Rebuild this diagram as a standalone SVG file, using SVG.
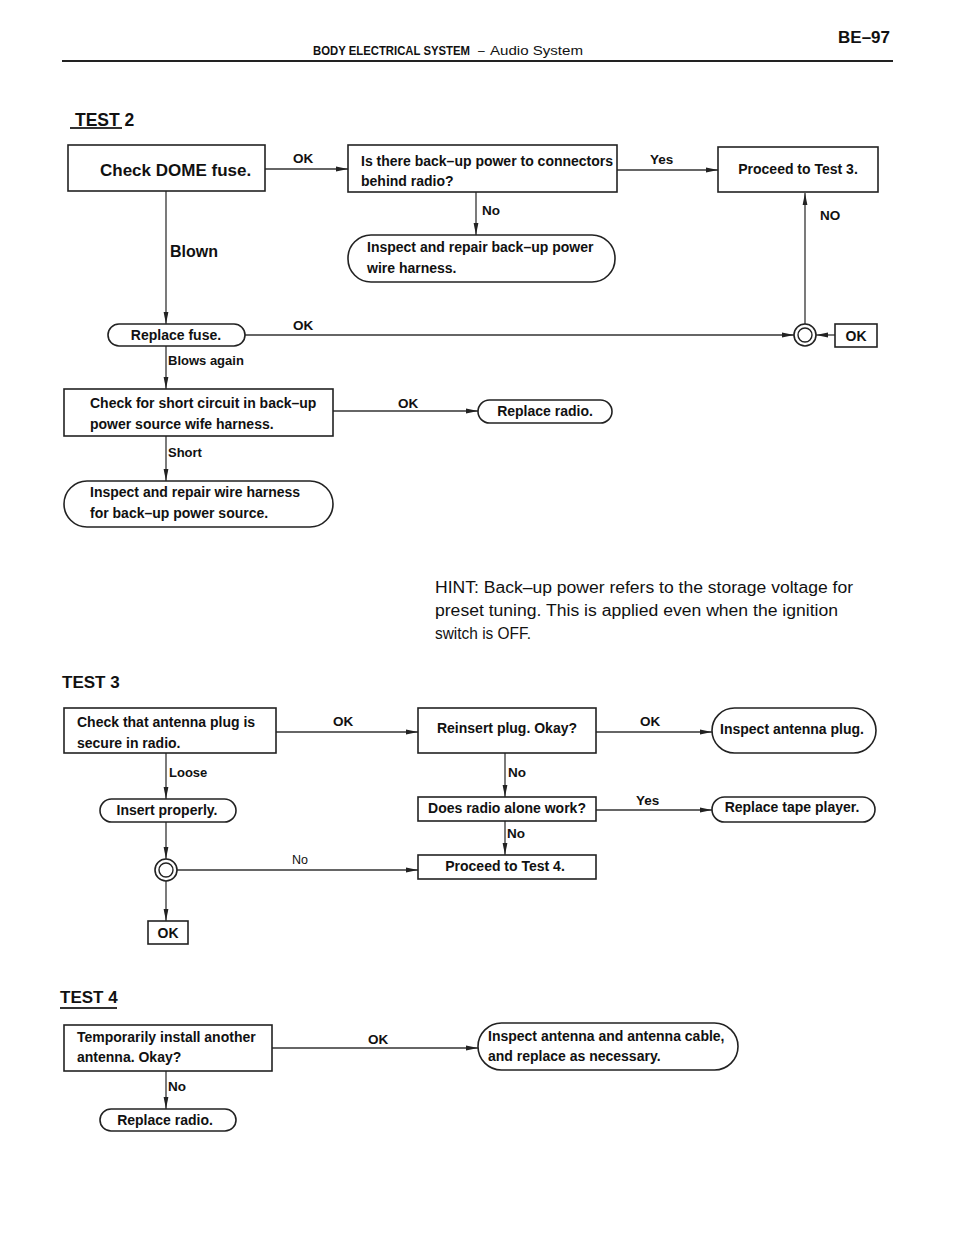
<svg xmlns="http://www.w3.org/2000/svg" width="960" height="1242" viewBox="0 0 960 1242">
<defs>
<marker id="arr" viewBox="0 0 12 6" refX="12" refY="3" markerWidth="12" markerHeight="6" markerUnits="userSpaceOnUse" orient="auto">
<path d="M0,0.6 L12,3 L0,5.4 Z" fill="#222"/>
</marker>
</defs>
<style>
.box{fill:#fff;stroke:#222;stroke-width:1.6}
.ln{fill:none;stroke:#333;stroke-width:1.3}
.t{font-family:"Liberation Sans",Arial,sans-serif;font-weight:bold;font-size:13px;fill:#111}
.n{font-size:14px}
.big{font-size:17px}
.lbl{font-family:"Liberation Sans",Arial,sans-serif;font-weight:bold;font-size:13.5px;fill:#111}
.hint{font-family:"Liberation Sans",Arial,sans-serif;font-size:16px;fill:#111}
.m{text-anchor:middle}
</style>
<rect width="960" height="1242" fill="#fff"/>

<g id="header">
<text x="890" y="43" class="t" style="font-size:17px" text-anchor="end">BE–97</text>
<text x="313" y="55" class="t" style="font-size:12px" textLength="157" lengthAdjust="spacingAndGlyphs">BODY ELECTRICAL SYSTEM</text>
<text x="478" y="55" class="hint" style="font-size:12px">–</text>
<text x="490" y="55" class="hint" style="font-size:13px" textLength="93" lengthAdjust="spacingAndGlyphs">Audio System</text>
<line x1="62" y1="61" x2="893" y2="61" stroke="#222" stroke-width="2"/>
</g>

<g id="test2-title">
<text x="75" y="126" class="t" style="font-size:17.5px">TEST 2</text>
<line x1="70" y1="128" x2="122" y2="128" stroke="#333" stroke-width="2"/>
</g>

<g id="connectors">
<line class="ln" x1="265" y1="169" x2="348" y2="169" marker-end="url(#arr)"/>
<line class="ln" x1="617" y1="170" x2="718" y2="170" marker-end="url(#arr)"/>
<line class="ln" x1="476" y1="192" x2="476" y2="235" marker-end="url(#arr)"/>
<line class="ln" x1="166" y1="191" x2="166" y2="324" marker-end="url(#arr)"/>
<line class="ln" x1="245" y1="335" x2="794" y2="335" marker-end="url(#arr)"/>
<line class="ln" x1="835" y1="335" x2="816" y2="335" marker-end="url(#arr)"/>
<line class="ln" x1="805" y1="324" x2="805" y2="193" marker-end="url(#arr)"/>
<line class="ln" x1="166" y1="346" x2="166" y2="389" marker-end="url(#arr)"/>
<line class="ln" x1="333" y1="411" x2="478" y2="411" marker-end="url(#arr)"/>
<line class="ln" x1="166" y1="436" x2="166" y2="481" marker-end="url(#arr)"/>

<line class="ln" x1="276" y1="732" x2="418" y2="732" marker-end="url(#arr)"/>
<line class="ln" x1="596" y1="732" x2="712" y2="732" marker-end="url(#arr)"/>
<line class="ln" x1="505" y1="753" x2="505" y2="797" marker-end="url(#arr)"/>
<line class="ln" x1="596" y1="810" x2="712" y2="810" marker-end="url(#arr)"/>
<line class="ln" x1="505" y1="821" x2="505" y2="855" marker-end="url(#arr)"/>
<line class="ln" x1="166" y1="753" x2="166" y2="799" marker-end="url(#arr)"/>
<line class="ln" x1="166" y1="822" x2="166" y2="859" marker-end="url(#arr)"/>
<line class="ln" x1="177" y1="870" x2="418" y2="870" marker-end="url(#arr)"/>
<line class="ln" x1="166" y1="881" x2="166" y2="921" marker-end="url(#arr)"/>

<line class="ln" x1="272" y1="1048" x2="478" y2="1048" marker-end="url(#arr)"/>
<line class="ln" x1="166" y1="1071" x2="166" y2="1109" marker-end="url(#arr)"/>
</g>

<g id="edge-labels">
<text x="293" y="163" class="lbl">OK</text>
<text x="650" y="164" class="lbl">Yes</text>
<text x="482" y="215" class="lbl">No</text>
<text x="820" y="220" class="lbl">NO</text>
<text x="170" y="257" class="t" style="font-size:16px">Blown</text>
<text x="293" y="330" class="lbl">OK</text>
<text x="168" y="365" class="t">Blows again</text>
<text x="398" y="408" class="lbl">OK</text>
<text x="168" y="457" class="t">Short</text>

<text x="333" y="726" class="lbl">OK</text>
<text x="640" y="726" class="lbl">OK</text>
<text x="508" y="777" class="lbl">No</text>
<text x="169" y="777" class="t">Loose</text>
<text x="636" y="805" class="t" style="font-size:13.5px">Yes</text>
<text x="507" y="838" class="lbl">No</text>
<text x="292" y="864" class="hint" style="font-size:12.5px">No</text>

<text x="368" y="1044" class="lbl">OK</text>
<text x="168" y="1091" class="lbl">No</text>
</g>

<g id="n-dome">
<rect class="box" x="68" y="145" width="197" height="46"/>
<text x="100" y="176" class="t big">Check DOME fuse.</text>
</g>
<g id="n-backup">
<rect class="box" x="348" y="145" width="269" height="47"/>
<text x="361" y="166" class="t n">Is there back–up power to connectors</text>
<text x="361" y="186" class="t n">behind radio?</text>
</g>
<g id="n-proceed3">
<rect class="box" x="718" y="147" width="160" height="45"/>
<text x="798" y="174" class="t n m">Proceed to Test 3.</text>
</g>
<g id="n-repair-backup">
<rect class="box" x="348" y="235" width="267" height="47" rx="23" ry="23"/>
<text x="367" y="252" class="t n">Inspect and repair back–up power</text>
<text x="367" y="273" class="t n">wire harness.</text>
</g>
<g id="n-replace-fuse">
<rect class="box" x="108" y="324" width="137" height="22" rx="11" ry="11"/>
<text x="176" y="340" class="t n m">Replace fuse.</text>
</g>
<g id="n-junction1">
<circle cx="805" cy="335" r="11" fill="#fff" stroke="#222" stroke-width="1.6"/>
<circle cx="805" cy="335" r="7" fill="#fff" stroke="#222" stroke-width="1.4"/>
</g>
<g id="n-ok1">
<rect class="box" x="835" y="324" width="42" height="23"/>
<text x="856" y="341" class="t n m">OK</text>
</g>
<g id="n-short-check">
<rect class="box" x="64" y="389" width="269" height="47"/>
<text x="90" y="408" class="t n">Check for short circuit in back–up</text>
<text x="90" y="429" class="t n">power source wife harness.</text>
</g>
<g id="n-replace-radio1">
<rect class="box" x="478" y="400" width="134" height="23" rx="11.5" ry="11.5"/>
<text x="545" y="416" class="t n m">Replace radio.</text>
</g>
<g id="n-repair-wire">
<rect class="box" x="64" y="481" width="269" height="46" rx="23" ry="23"/>
<text x="90" y="497" class="t n">Inspect and repair wire harness</text>
<text x="90" y="518" class="t n">for back–up power source.</text>
</g>

<g id="hint">
<text x="435" y="593" class="hint" textLength="418" lengthAdjust="spacingAndGlyphs">HINT: Back–up power refers to the storage voltage for</text>
<text x="435" y="616" class="hint" textLength="403" lengthAdjust="spacingAndGlyphs">preset tuning. This is applied even when the ignition</text>
<text x="435" y="639" class="hint" textLength="96" lengthAdjust="spacingAndGlyphs">switch is OFF.</text>
</g>

<g id="test3-title">
<text x="62" y="688" class="t" style="font-size:17px">TEST 3</text>
</g>
<g id="n-antenna-check">
<rect class="box" x="64" y="708" width="212" height="45"/>
<text x="77" y="727" class="t n">Check that antenna plug is</text>
<text x="77" y="748" class="t n">secure in radio.</text>
</g>
<g id="n-reinsert">
<rect class="box" x="418" y="708" width="178" height="45"/>
<text x="507" y="733" class="t n m">Reinsert plug. Okay?</text>
</g>
<g id="n-inspect-plug">
<rect class="box" x="712" y="708" width="164" height="45" rx="22.5" ry="22.5"/>
<text x="792" y="734" class="t n m">Inspect antenna plug.</text>
</g>
<g id="n-insert">
<rect class="box" x="100" y="799" width="136" height="23" rx="11.5" ry="11.5"/>
<text x="167" y="815" class="t n m">Insert properly.</text>
</g>
<g id="n-radio-alone">
<rect class="box" x="418" y="797" width="178" height="24"/>
<text x="507" y="813" class="t n m">Does radio alone work?</text>
</g>
<g id="n-tape">
<rect class="box" x="712" y="797" width="163" height="25" rx="12.5" ry="12.5"/>
<text x="792" y="812" class="t n m">Replace tape player.</text>
</g>
<g id="n-proceed4">
<rect class="box" x="418" y="855" width="178" height="24"/>
<text x="505" y="871" class="t n m">Proceed to Test 4.</text>
</g>
<g id="n-junction2">
<circle cx="166" cy="870" r="11" fill="#fff" stroke="#222" stroke-width="1.6"/>
<circle cx="166" cy="870" r="7" fill="#fff" stroke="#222" stroke-width="1.4"/>
</g>
<g id="n-ok2">
<rect class="box" x="148" y="921" width="40" height="23"/>
<text x="168" y="938" class="t n m">OK</text>
</g>

<g id="test4-title">
<text x="60" y="1003" class="t" style="font-size:17px">TEST 4</text>
<line x1="60" y1="1008" x2="117" y2="1008" stroke="#333" stroke-width="2"/>
</g>
<g id="n-temp">
<rect class="box" x="64" y="1025" width="208" height="46"/>
<text x="77" y="1042" class="t n">Temporarily install another</text>
<text x="77" y="1062" class="t n">antenna. Okay?</text>
</g>
<g id="n-inspect-antenna">
<rect class="box" x="478" y="1023" width="260" height="47" rx="23.5" ry="23.5"/>
<text x="488" y="1041" class="t n">Inspect antenna and antenna cable,</text>
<text x="488" y="1061" class="t n">and replace as necessary.</text>
</g>
<g id="n-replace-radio2">
<rect class="box" x="100" y="1109" width="136" height="22" rx="11" ry="11"/>
<text x="165" y="1125" class="t n m">Replace radio.</text>
</g>
</svg>
